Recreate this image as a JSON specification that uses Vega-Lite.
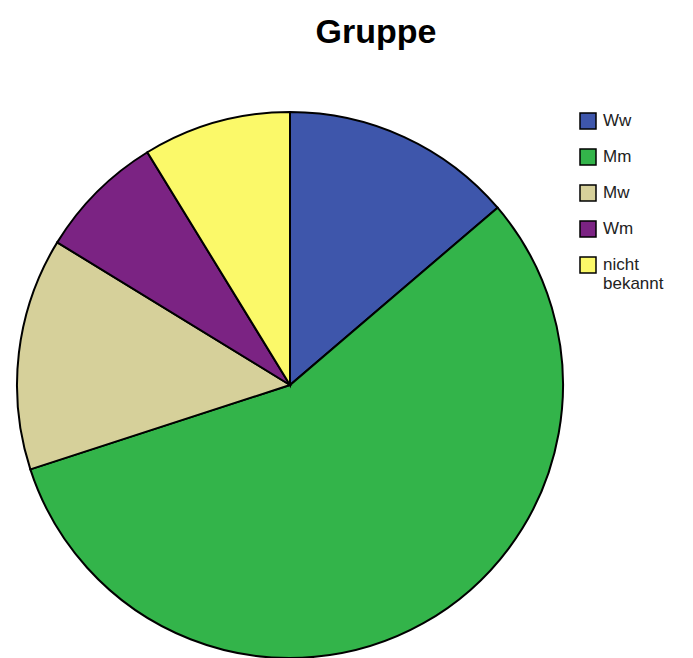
{
  "$schema": "https://vega.github.io/schema/vega-lite/v6.json",
  "width": 546,
  "height": 546,
  "autosize": "none",
  "padding": {"left": 17, "top": 112, "right": 130, "bottom": 0},
  "background": "white",
  "title": {"text": "Gruppe", "font": "Liberation Sans", "fontSize": 34, "fontWeight": "bold", "color": "black", "anchor": "middle", "frame": "group", "dx": 86, "offset": 58},
  "data": {"values": [
    {"Gruppe": "Ww", "n": 11, "order": 1},
    {"Gruppe": "Mm", "n": 45, "order": 2},
    {"Gruppe": "Mw", "n": 11, "order": 3},
    {"Gruppe": "Wm", "n": 6, "order": 4},
    {"Gruppe": "nicht bekannt", "n": 7, "order": 5}
  ]},
  "mark": {"type": "arc", "stroke": "black", "strokeWidth": 2, "radius": 273},
  "encoding": {
    "theta": {"field": "n", "type": "quantitative", "stack": true},
    "order": {"field": "order", "type": "quantitative"},
    "color": {
      "field": "Gruppe", "type": "nominal",
      "scale": {"domain": ["Ww", "Mm", "Mw", "Wm", "nicht bekannt"], "range": ["#3E56AB", "#33B44A", "#D6D09A", "#7B2383", "#FBF969"]},
      "legend": {
        "orient": "none", "legendX": 562, "legendY": 0, "title": null,
        "labelFont": "Liberation Sans", "labelFontSize": 17, "labelColor": "#222222",
        "symbolType": "square", "symbolSize": 256, "symbolStrokeColor": "black", "symbolStrokeWidth": 1.5, "symbolOpacity": 1,
        "rowPadding": 14, "labelOffset": 6,
        "labelExpr": "datum.label == 'nicht bekannt' ? ['nicht', 'bekannt'] : datum.label"
      }
    }
  },
  "config": {"view": {"stroke": null}}
}
